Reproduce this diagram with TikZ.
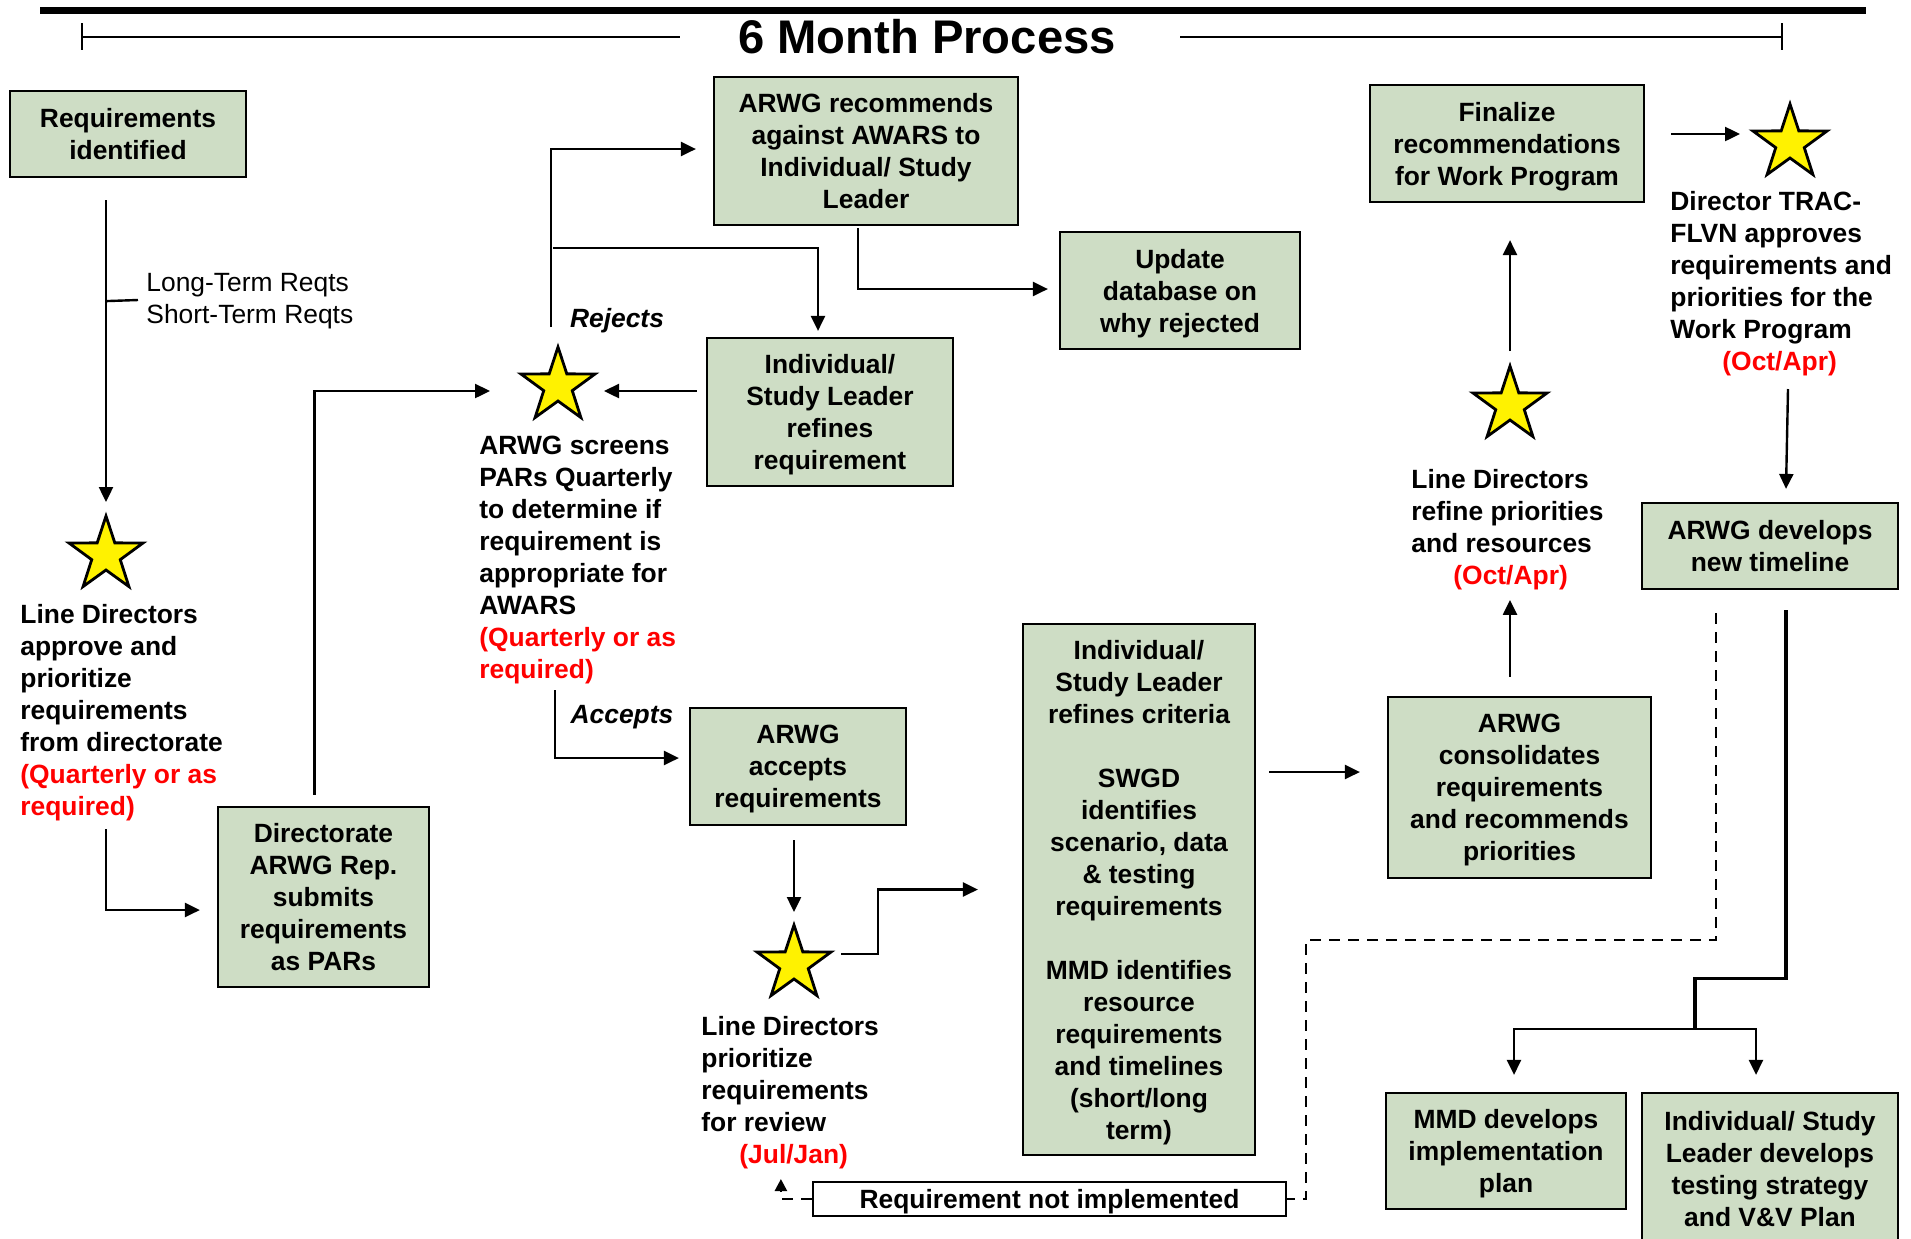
\documentclass[tikz,border=0pt]{standalone}
\usepackage{fontspec}
\setmainfont{Liberation Sans}
\usetikzlibrary{shapes.geometric,arrows.meta,calc}
\definecolor{boxg}{RGB}{206,221,197}
\definecolor{redtxt}{RGB}{255,0,0}
\begin{document}
\begin{tikzpicture}[x=0.5pt,y=-0.5pt,
  base/.style={font=\fontsize{13.2pt}{16pt}\selectfont\bfseries, inner sep=0pt, text depth=0pt},
  reg/.style={font=\fontsize{13.2pt}{16pt}\selectfont, inner sep=0pt, text depth=0pt, align=left, anchor=west},
  gbox/.style={base, draw=black, fill=boxg, line width=1.1pt, align=center},
  wbox/.style={base, draw=black, fill=white, line width=1.1pt, align=center},
  lbl/.style={base, align=left, anchor=west},
  arr/.style={line width=1.2pt, -{Triangle[length=7.5pt,width=7pt]}},
  ln/.style={line width=1.2pt},
  dsh/.style={line width=1.2pt, dash pattern=on 5.5pt off 4pt},
  starn/.style={shape=star, star points=5, star point ratio=2.6, minimum size=39pt, inner sep=0pt, fill=yellow, draw=black, line width=1.4pt}
]
\useasboundingbox (0,0) rectangle (1911,1238);
\fill[white] (0,0) rectangle (1911,1238);

% title
\draw[line width=3.5pt] (40,10.5) -- (1866,10.5);
\node[font=\fontsize{23.6pt}{26pt}\selectfont\bfseries, anchor=base, inner sep=0pt] (title) at (927,53) {6 Month Process};
\coordinate (tl) at (82,37);
\coordinate (tr) at (1782,37);
\draw[line width=1.4pt] (tl) -- (680,37);
\draw[line width=1.4pt] (1180,37) -- (tr);
\draw[line width=0.7pt] ($(tl)+(0,-14)$) -- ($(tl)+(0,13)$);
\draw[line width=0.7pt] ($(tr)+(0,-14)$) -- ($(tr)+(0,13)$);

% boxes
\node[gbox, minimum width=118pt, minimum height=43pt] (req) at (128,134) {Requirements\\identified};
\node[gbox, minimum width=152pt, minimum height=74pt] (rec) at (866,151) {ARWG recommends\\against AWARS to\\Individual/ Study\\Leader};
\node[gbox, minimum width=120pt, minimum height=58.5pt] (upd) at (1180,290.5) {Update\\database on\\why rejected};
\node[gbox, minimum width=123pt, minimum height=74pt] (ref) at (830,412) {Individual/\\Study Leader\\refines\\requirement};
\node[gbox, minimum width=137pt, minimum height=58.5pt] (fin) at (1507,143.5) {Finalize\\recommendations\\for Work Program};
\node[gbox, minimum width=128pt, minimum height=43pt] (dev) at (1770,546) {ARWG develops\\new timeline};
\node[gbox, minimum width=105.5pt, minimum height=90pt] (dir) at (323.5,897) {Directorate\\ARWG Rep.\\submits\\requirements\\as PARs};
\node[gbox, minimum width=108pt, minimum height=58.5pt] (acc) at (798,766.5) {ARWG\\accepts\\requirements};
\node[gbox, minimum width=116pt, minimum height=265.5pt] (crit) at (1139,889.5) {Individual/\\Study Leader\\refines criteria\\[16pt]SWGD\\identifies\\scenario, data\\\& testing\\requirements\\[16pt]MMD identifies\\resource\\requirements\\and timelines\\(short/long\\term)};
\node[gbox, minimum width=131.5pt, minimum height=90.5pt] (con) at (1519.5,787.5) {ARWG\\consolidates\\requirements\\and recommends\\priorities};
\node[gbox, minimum width=120pt, minimum height=58pt] (mmd) at (1506,1151) {MMD develops\\implementation\\plan};
\node[gbox, minimum width=128pt, minimum height=76pt] (vv) at (1770,1169) {Individual/ Study\\Leader develops\\testing strategy\\and V\&V Plan};
\node[wbox, minimum width=236.5pt, minimum height=17pt] (rni) at (1049.5,1199) {Requirement not implemented};

% stars
\node[starn] (s1) at (106,555) {};
\node[starn] (s2) at (558,386) {};
\node[starn] (s3) at (794,964) {};
\node[starn] (s4) at (1510,405) {};
\node[starn] (s5) at (1790,143) {};

% text labels
\node[reg] (lt) at (146,298) {Long-Term Reqts\\Short-Term Reqts};
\node[lbl] (t1) at (20,709.5) {Line Directors\\approve and\\prioritize\\requirements\\from directorate\\\textcolor{redtxt}{(Quarterly or as}\\\textcolor{redtxt}{required)}};
\node[lbl] (t2) at (479,557.5) {ARWG screens\\PARs Quarterly\\to determine if\\requirement is\\appropriate for\\AWARS\\\textcolor{redtxt}{(Quarterly or as}\\\textcolor{redtxt}{required)}};
\node[lbl] (t3) at (701,1089.5) {Line Directors\\prioritize\\requirements\\for review\\\hspace*{19pt}\textcolor{redtxt}{(Jul/Jan)}};
\node[lbl] (t4) at (1411,527) {Line Directors\\refine priorities\\and resources\\\hspace*{21pt}\textcolor{redtxt}{(Oct/Apr)}};
\node[lbl] (t5) at (1670,281) {Director TRAC-\\FLVN approves\\requirements and\\priorities for the\\Work Program\\\hspace*{26pt}\textcolor{redtxt}{(Oct/Apr)}};
\node[base, font=\fontsize{13.2pt}{16pt}\selectfont\bfseries\itshape] (rej) at (617,318) {Rejects};
\node[base, font=\fontsize{13.2pt}{16pt}\selectfont\bfseries\itshape] (accl) at (622,714) {Accepts};

% connectors
\draw[arr] ($(req.south -| s1)+(0,22)$) -- ($(s1)+(0,-53)$);
\coordinate (tk) at ($(req.south -| s1)+(0,123)$);
\draw[ln] (tk) -- ($(lt.west)+(-8,2)$);
\draw[arr] ($(s1)+(0,274)$) |- ($(dir.west)+(-17,13)$);
\draw[arr] ($(dir.north)+(-9,-11)$) |- ($(s2)+(-68,5)$);
\draw[arr] ($(ref.west)+(-9,-21)$) -- ($(s2)+(46,5)$);
\draw[arr] ($(s2)+(-7,-59)$) |- ($(rec.west)+(-17,-2)$);
\coordinate (j1) at ($(s2)+(-5,-138)$);
\draw[arr] (j1) -| ($(ref.north)+(-12,-6)$);
\draw[arr] ($(rec.south)+(-8,2)$) |- ($(upd.west)+(-11,-1.5)$);
\draw[arr] ($(s2)+(-3,304)$) |- ($(acc.west)+(-10,-8.5)$);
\draw[arr] ($(acc.south)+(-4,14)$) -- ($(s3)+(0,-52)$);
\draw[arr] ($(s3)+(47,-10)$) -- ++(37,0) |- ($(crit.west)+(-44,0)$);
\draw[arr] ($(crit.east)+(13,-117.5)$) -- ($(con.west)+(-27,-15.5)$);
\draw[arr] ($(con.north)+(-9.5,-19)$) -- ($(con.north)+(-9.5,-96)$);
\draw[arr] ($(s4)+(0,-54)$) -- ($(fin.south -| s4)+(0,37)$);
\draw[arr] ($(fin.east)+(26,-9.5)$) -- ($(s5)+(-50,-9)$);
\draw[arr] ($(s5)+(-2,246)$) -- ($(dev.north)+(16,-13)$);
\draw[line width=1.6pt] ($(dev.south)+(16,20)$) |- ($(dev.south)+(-75,388)$) -- ++(0,51) coordinate (split);
\draw[arr] (split) -| ($(mmd.north)+(8,-17)$);
\draw[arr] (split) -| ($(vv.north)+(-14,-17)$);
\draw[dsh] ($(dev.south)+(-54,23)$) |- ($(rni.east)+(19,-259)$) |- (rni.east);
\draw[dsh, -{Triangle[length=6pt,width=6pt]}] (rni.west) -- ++(-31,0) -- ++(0,-20);
\end{tikzpicture}
\end{document}
